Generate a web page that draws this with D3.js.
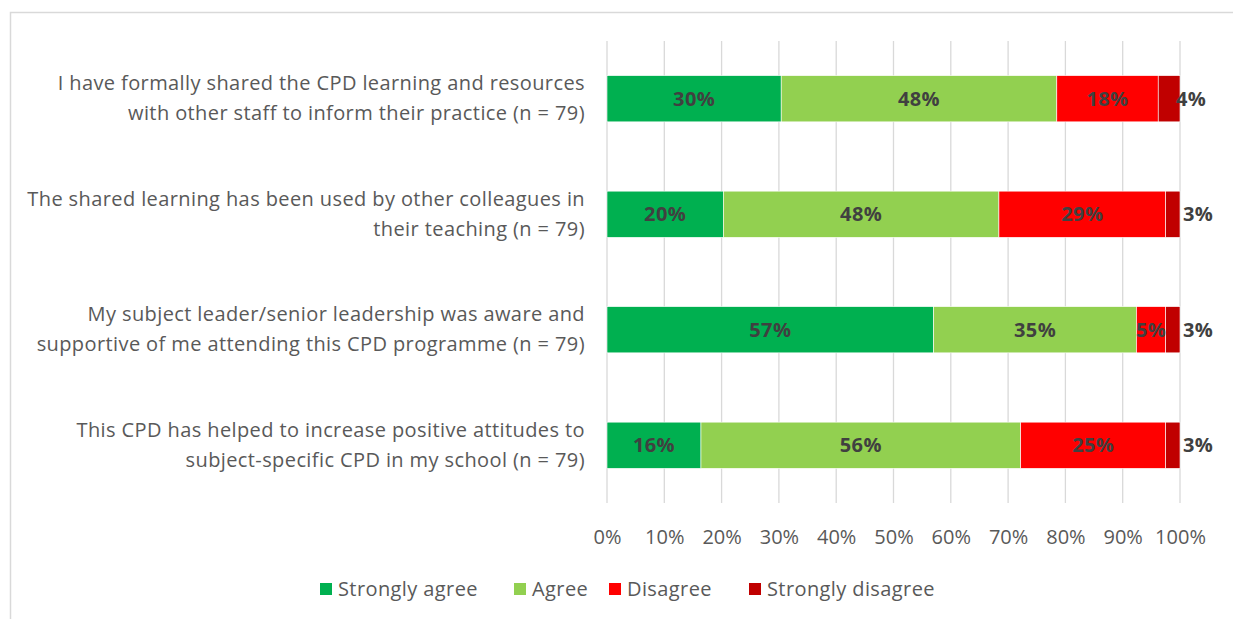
<!DOCTYPE html>
<html>
<head>
<meta charset="utf-8">
<script src="https://cdn.jsdelivr.net/npm/d3@7"></script>
<style>
  body { margin: 0; background: #fff; }
  #chart { width: 1233px; height: 619px; }
  text { font-family: "Open Sans", Lato, sans-serif; }
</style>
</head>
<body>
<div id="chart"><svg width="1233" height="619"></svg></div>
<script>
// statements, two lines each
var categories = [
    ["I have formally shared the CPD learning and resources", "with other staff to inform their practice (n = 79)"],
    ["The shared learning has been used by other colleagues in", "their teaching (n = 79)"],
    ["My subject leader/senior leadership was aware and", "supportive of me attending this CPD programme (n = 79)"],
    ["This CPD has helped to increase positive attitudes to", "subject-specific CPD in my school (n = 79)"]
];
var seriesNames = ["Strongly agree", "Agree", "Disagree", "Strongly disagree"];
var seriesColors = ["#00b050", "#92d050", "#ff0000", "#c00000"];
// percent values per row
var stronglyAgree = [30.4, 20.3, 57.0, 16.4];
var agree = [48.1, 48.1, 35.4, 55.8];
var disagree = [17.7, 29.1, 5.1, 25.3];
var stronglyDisagree = [3.8, 2.5, 2.5, 2.5];
var ticks = [0, 10, 20, 30, 40, 50, 60, 70, 80, 90, 100];

var Chart = (function () {
    function Chart(target) {
        this.svg = d3.select(target).select("svg");
        this.left = 607;
        this.right = 1180;
        this.top = 41;
        this.bottom = 503;
    }
    Chart.prototype.render = function () {
        var chart = this;
        var svg = chart.svg;
        var fs = "20px";

        // outer frame
        svg.append("path").attr("d", "M10.5,619 L10.5,12.5 L1233,12.5")
            .attr("fill", "none").attr("stroke", "#d9d9d9").attr("stroke-width", 1.5);

        var x = d3.scaleLinear().domain([0, 100]).range([chart.left, chart.right]);
        var y = d3.scaleBand().domain(d3.range(categories.length))
            .range([chart.top, chart.bottom]).paddingInner(0.6).paddingOuter(0.3);

        // gridlines
        svg.append("g").selectAll("line").data(ticks).enter().append("line")
            .attr("x1", function (d) { return x(d); }).attr("x2", function (d) { return x(d); })
            .attr("y1", chart.top).attr("y2", chart.bottom)
            .attr("stroke", "#d9d9d9").attr("stroke-width", 1.3);

        var xAxis = d3.axisBottom(x).tickValues(ticks).tickSize(0).tickPadding(0)
            .tickFormat(function (d) { return d + "%"; });
        var gx = svg.append("g").attr("transform", "translate(0," + (chart.bottom + 41) + ")").call(xAxis);
        gx.select(".domain").remove();
        gx.selectAll("text").attr("fill", "#595959").attr("font-size", fs)
            .style("font-family", "'Open Sans', sans-serif").attr("dy", 0);

        var rows = categories.map(function (c, i) {
            return [stronglyAgree[i], agree[i], disagree[i], stronglyDisagree[i]];
        });
        var segs = [];
        rows.forEach(function (vals, i) {
            var acc = 0;
            vals.forEach(function (v, k) {
                segs.push({ row: i, k: k, x0: acc, x1: acc + v, v: v });
                acc += v;
            });
        });

        svg.append("g").selectAll("rect").data(segs).enter().append("rect")
            .attr("x", function (d) { return x(d.x0); })
            .attr("width", function (d) { return x(d.x1) - x(d.x0); })
            .attr("y", function (d) { return y(d.row); })
            .attr("height", y.bandwidth())
            .attr("fill", function (d) { return seriesColors[d.k]; })
            .attr("stroke", "#fff").attr("stroke-width", 0.6);

        svg.append("g").selectAll("text").data(segs).enter().append("text")
            .attr("x", function (d) { return d.k == 3 ? x(d.x1) + (d.v > 3 ? -4 : 3) : (x(d.x0) + x(d.x1)) / 2; })
            .attr("y", function (d) { return y(d.row) + y.bandwidth() / 2; })
            .attr("dy", "0.36em")
            .attr("text-anchor", function (d) { return d.k == 3 ? "start" : "middle"; })
            .attr("font-size", fs).attr("font-weight", "bold").attr("fill", "#404040")
            .attr("letter-spacing", "0.4px")
            .text(function (d) { return Math.round(d.v) + "%"; });

        // category labels
        var cat = svg.append("g").selectAll("text").data(categories).enter().append("text")
            .attr("text-anchor", "end").attr("fill", "#595959").attr("font-size", fs)
            .attr("letter-spacing", "0.4px")
            .attr("y", function (d, i) { return y(i) + y.bandwidth() / 2; });
        cat.selectAll("tspan").data(function (d) { return d; }).enter().append("tspan")
            .attr("x", 585)
            .attr("dy", function (d, j) { return j == 0 ? "-0.42em" : "1.5em"; })
            .text(function (d) { return d; });

        // legend
        var legendX = [320, 514, 609, 749];
        var lg = svg.append("g").selectAll("g").data(seriesNames).enter().append("g")
            .attr("transform", function (d, i) { return "translate(" + legendX[i] + ",589)"; });
        lg.append("rect").attr("x", 0).attr("y", -6).attr("width", 12).attr("height", 12)
            .attr("fill", function (d, i) { return seriesColors[i]; });
        lg.append("text").attr("x", 18).attr("dy", "0.36em").attr("fill", "#595959")
            .attr("letter-spacing", "0.4px")
            .attr("font-size", fs).text(function (d) { return d; });
    };
    return Chart;
})();

new Chart("#chart").render();
</script>
</body>
</html>
